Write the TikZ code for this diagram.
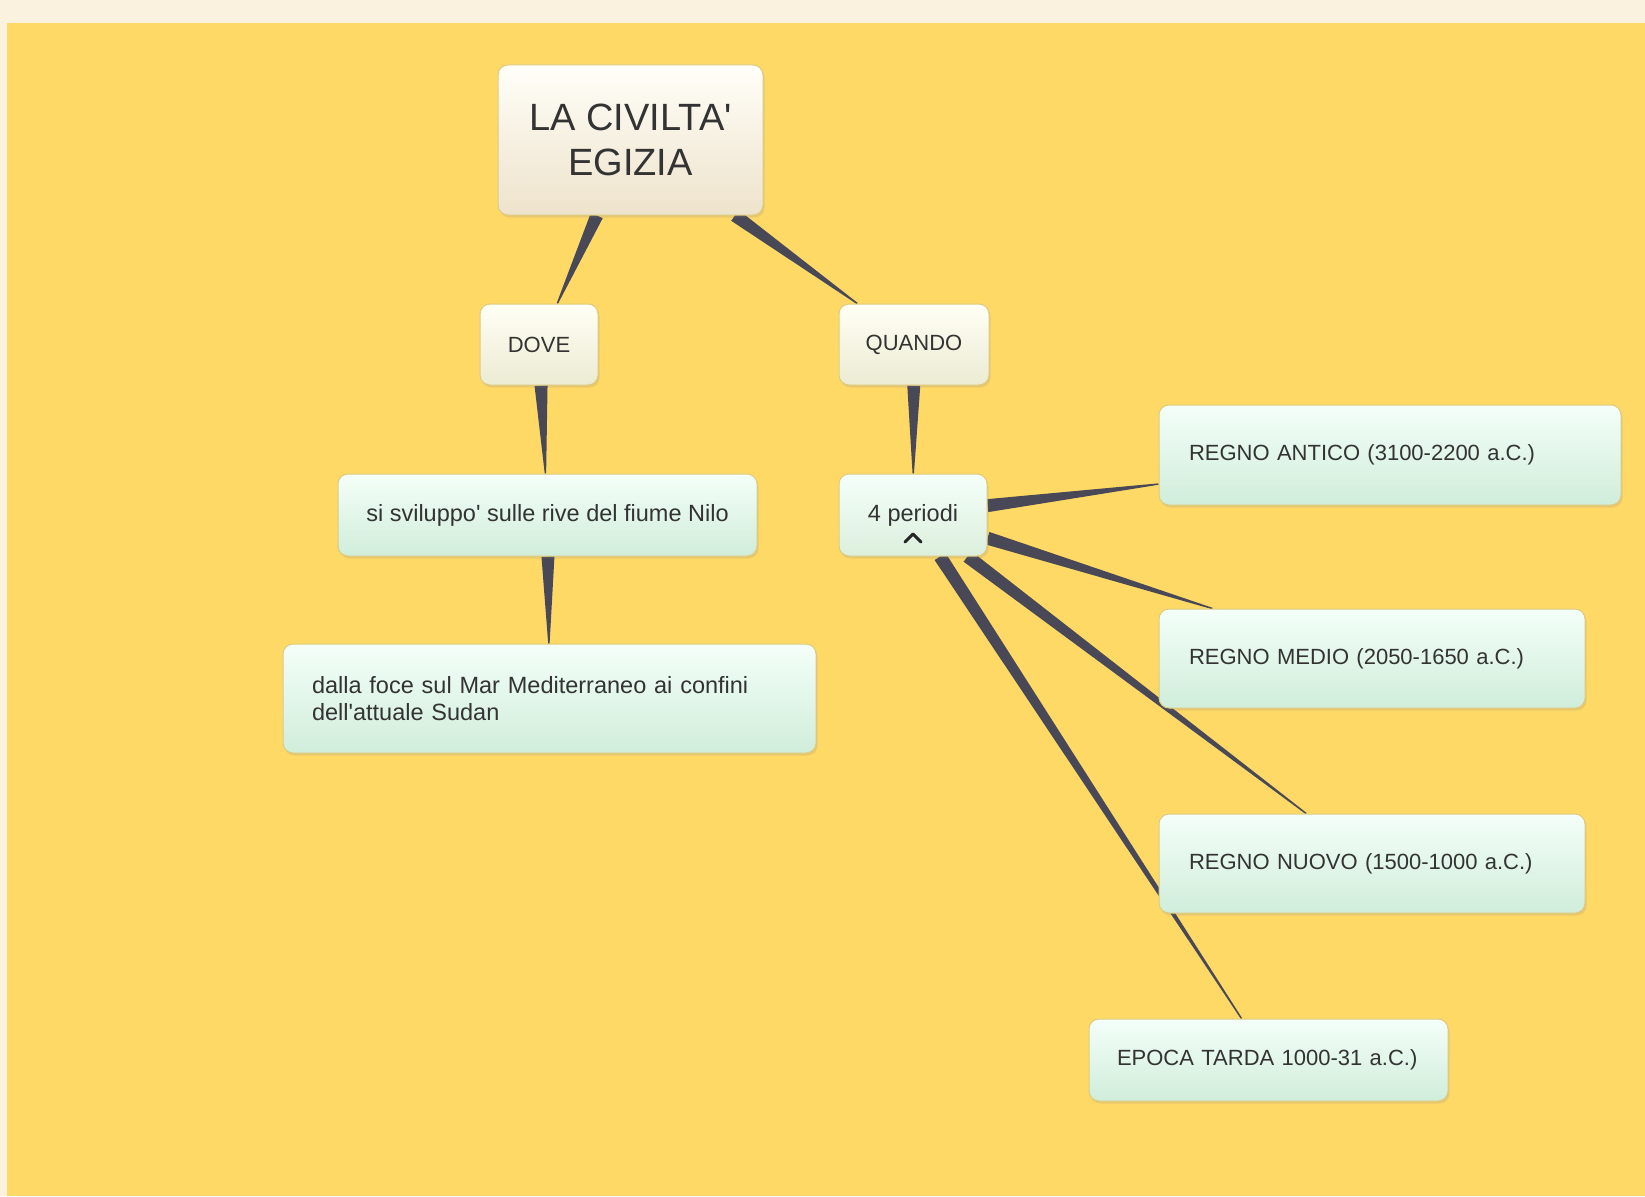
\documentclass[tikz,border=0pt]{standalone}
\usepackage{fontspec}
\setmainfont{Liberation Sans}[Ligatures=TeXOff]
\usetikzlibrary{calc,shadows}
\definecolor{bgyel}{HTML}{FFD966}
\definecolor{band}{HTML}{FAF2DF}
\definecolor{conn}{HTML}{484857}
\definecolor{txt}{HTML}{333333}
\definecolor{bord}{HTML}{DCCB80}
\definecolor{mintT}{HTML}{F4FFF9}
\definecolor{mintB}{HTML}{D0EDDA}
\definecolor{creamT}{HTML}{FFFEF8}
\definecolor{creamB}{HTML}{EEE3CC}
\definecolor{paleT}{HTML}{FFFFF6}
\definecolor{paleB}{HTML}{ECEBD2}
\definecolor{perB}{HTML}{DCEFDC}
\pgfdeclarelayer{bg}
\pgfsetlayers{bg,main}
\newcommand\wedgeconn[2]{%
  \path (#1) -- (#2) coordinate[pos=0] (ws) coordinate[pos=1] (we);
  \fill[conn] ($(ws)!6.5pt!90:(we)$) -- ($(ws)!6.5pt!-90:(we)$)
     -- ($(we)!0.7pt!90:(ws)$) -- ($(we)!0.7pt!-90:(ws)$) -- cycle;}
\tikzset{
  box/.style={rectangle, rounded corners=10pt, draw=bord, line width=1pt,
    inner sep=0pt, text=txt,
    drop shadow={opacity=0.18, shadow xshift=1.5pt, shadow yshift=-2.5pt}},
  mint/.style={box, top color=mintT, bottom color=mintB},
  pale/.style={box, top color=paleT, bottom color=paleB},
  caps/.style={font=\fontsize{22}{26}\selectfont},
  lower/.style={font=\fontsize{23.5}{27}\selectfont},
}
\begin{document}
\begin{tikzpicture}[x=1pt,y=-1pt]
\useasboundingbox (0,0) rectangle (1645,1196);

% nodes
\node[box, top color=creamT, bottom color=creamB, minimum width=265pt,
      minimum height=150pt, align=center,
      font=\fontsize{38}{45}\selectfont] (title) at (630.5,140) {LA CIVILTA'\\EGIZIA};
\node[pale, caps, minimum width=118pt, minimum height=81pt] (dove) at (539,344.5) {DOVE};
\node[pale, caps, minimum width=150pt, minimum height=81pt] (quando) at (914,344.5) {QUANDO};
\node[mint, lower, minimum width=419pt, minimum height=82pt] (ss) at (547.5,515)
  {si sviluppo' sulle rive del fiume Nilo};
\node[mint, lower, text width=475pt, inner xsep=29pt, align=left,
      minimum height=109pt] (foce) at (549.5,698.5)
  {dalla foce sul Mar Mediterraneo ai confini\\dell'attuale Sudan};
\node[box, top color=mintT, bottom color=perB, lower, minimum width=148pt,
      minimum height=82pt] (per) at (913,515) {4 periodi};
\node[mint, caps, text width=402pt, inner xsep=30pt, align=left,
      minimum height=100pt] (antico) at (1390,455) {REGNO ANTICO (3100-2200 a.C.)};
\node[mint, caps, text width=366pt, inner xsep=30pt, align=left,
      minimum height=99pt] (medio) at (1372,658.5) {REGNO MEDIO (2050-1650 a.C.)};
\node[mint, caps, text width=366pt, inner xsep=30pt, align=left,
      minimum height=99pt] (nuovo) at (1372,863.5) {REGNO NUOVO (1500-1000 a.C.)};
\node[mint, caps, text width=303pt, inner xsep=28pt, align=left,
      minimum height=82pt] (epoca) at (1268.5,1060) {EPOCA TARDA 1000-31 a.C.)};

% collapse chevron
\draw[black!85, line width=3pt, line cap=round, line join=round]
  ($(per.center)+(-8,27)$) -- ($(per.center)+(0,19)$) -- ($(per.center)+(8,27)$);

\begin{pgfonlayer}{bg}
  \fill[band] (0,0) rectangle (1645,1196);
  \fill[bgyel] (7,23) rectangle (1645,1196);
  \wedgeconn{title}{dove}
  \wedgeconn{title}{quando}
  \wedgeconn{dove}{ss}
  \wedgeconn{ss}{foce}
  \wedgeconn{quando}{per}
  \wedgeconn{per}{antico}
  \wedgeconn{per}{medio}
  \wedgeconn{per}{nuovo}
  \wedgeconn{per}{epoca}
\end{pgfonlayer}
\end{tikzpicture}
\end{document}
